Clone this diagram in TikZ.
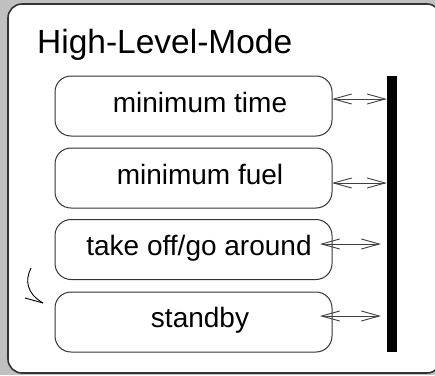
\documentclass[tikz,border=0pt]{standalone}
\usepackage{fontspec}
\setmainfont{Liberation Sans}
\usetikzlibrary{arrows.meta}
\definecolor{panelgray}{HTML}{C0C0C0}
\definecolor{edgegray}{HTML}{333333}
\definecolor{wiregray}{HTML}{404040}
\begin{document}
\begin{tikzpicture}[x=1pt,y=-1pt,
  modebox/.style={draw=edgegray, line width=1pt, rounded corners=16pt,
    minimum width=277pt, minimum height=60pt, inner sep=0pt, fill=white},
  modelabel/.style={anchor=base, inner sep=0pt, font=\fontsize{28}{32}\selectfont},
  link/.style={draw=wiregray, line width=0.9pt,
    {Straight Barb[length=18pt,width=10pt]}-{Straight Barb[length=18pt,width=10pt]}}]
  % canvas
  \useasboundingbox (0,0) rectangle (435,375);
  \fill[panelgray] (0,0) rectangle (435,375);
  \begin{scope}
    \clip (0,0) rectangle (435,375);
    \draw[draw=edgegray, line width=1.6pt, fill=white, rounded corners=14pt]
      (8,4) rectangle (441,373);
  \end{scope}
  % state title
  \node[anchor=base west, inner sep=0pt, font=\fontsize{33.5}{38}\selectfont]
    (title) at (37,53) {High-Level-Mode};
  % sub-states
  \node[modebox] (m1) at (193.5,106) {};
  \node[modebox] (m2) at (193.5,178) {};
  \node[modebox] (m3) at (193.5,249.5) {};
  \node[modebox] (m4) at (193.5,322) {};
  \node[modelabel] (l1) at (200,112) {minimum time};
  \node[modelabel] (l2) at (200,184) {minimum fuel};
  \node[modelabel] (l3) at (199,255) {take off/go around};
  \node[modelabel] (l4) at (200,327.5) {standby};
  % synchronisation bar
  \node[fill=black, minimum width=10pt, minimum height=276pt, inner sep=0pt]
    (bar) at (392,214) {};
  % links from sub-states to the bar
  \coordinate (a1) at (332,99);
  \coordinate (a2) at (332,183);
  \coordinate (a3) at (320,244);
  \coordinate (a4) at (320,316);
  \coordinate (b1) at (bar.west |- a1);
  \coordinate (b2) at (bar.west |- a2);
  \coordinate (b3) at (381,244);
  \coordinate (b4) at (381,316);
  \draw[link] (a1) -- (b1);
  \draw[link] (a2) -- (b2);
  \draw[link] (a3) -- (b3);
  \draw[link] (a4) -- (b4);
  % initial-state marker
  \coordinate (s0) at (31,268);
  \coordinate (s1) at (43,303);
  \coordinate (s2) at (25,298);
  \draw[line width=0.9pt] (s0) .. controls (25,280) and (26,293) .. (s1);
  \draw[line width=0.9pt] (s2) -- (s1);
\end{tikzpicture}
\end{document}
